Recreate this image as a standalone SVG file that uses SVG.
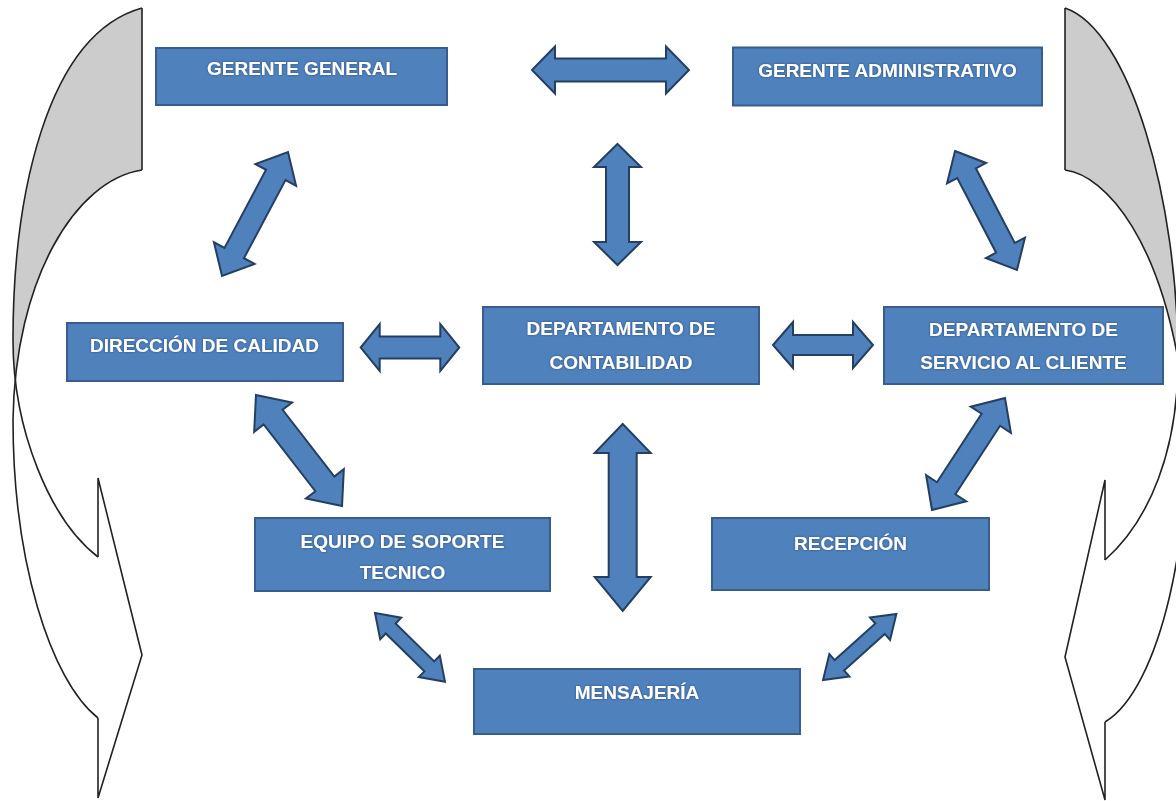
<svg xmlns="http://www.w3.org/2000/svg" width="1176" height="801" viewBox="0 0 1176 801">
<defs>
<style>
.box{fill:#4F81BD;stroke:#385D8A;stroke-width:2}
.arr{fill:#4F81BD;stroke:#243F60;stroke-width:2;stroke-linejoin:miter}
.lbl{font-family:"Liberation Sans",Arial,sans-serif;font-weight:bold;font-size:19px;fill:#FFFFFF;text-anchor:middle;filter:url(#glow)}
.back{fill:#CCCCCC;stroke:none}
.front{fill:#FFFFFF;stroke:none}
.edge{fill:none;stroke:#222222;stroke-width:1.6;stroke-linejoin:miter}
</style>
<filter id="glow" x="-10%" y="-30%" width="120%" height="160%">
<feDropShadow dx="0" dy="0" stdDeviation="0.8" flood-color="#1F3556" flood-opacity="0.7"/>
</filter>
</defs>
<rect width="1176" height="801" fill="#FFFFFF"/>

<g id="curved-arrow-left">
<path class="back" d="M142,8 C45,35 13,200 13,340 L13,420 C15,280 75,180 142,170 Z"/>
<path class="front" d="M13,340 C13,430 50,520 98,557 L98,478 L142,655 L98,798 L98,718 C50,680 13,560 13,420 Z"/>
<path class="edge" d="M142,8 C45,35 13,200 13,340 C13,430 50,520 98,557"/>
<path class="edge" d="M142,170 C75,180 15,280 13,420 C13,560 50,680 98,718"/>
<path class="edge" d="M142,8 L142,170"/>
<path class="edge" d="M98,557 L98,478 L142,655 L98,798 L98,718"/>
</g>

<g id="curved-arrow-right">
<path class="back" d="M1065,8 C1130,30 1178,200 1178,360 L1184,400 C1165,240 1105,175 1065,170 Z"/>
<path class="front" d="M1178,360 C1178,450 1150,520 1105,560 L1105,480 L1065,657 L1105,800 L1105,722 C1160,690 1195,530 1184,400 Z"/>
<path class="edge" d="M1065,8 C1130,30 1178,200 1178,360 C1178,450 1150,520 1105,560"/>
<path class="edge" d="M1065,170 C1105,175 1165,240 1184,400 C1195,530 1160,690 1105,722"/>
<path class="edge" d="M1065,8 L1065,170"/>
<path class="edge" d="M1105,560 L1105,480 L1065,657 L1105,800 L1105,722"/>
</g>

<g id="connectors">
<path class="arr" transform="translate(610.5,70)" d="M-78.5,0 L-55.5,-23.5 L-55.5,-11.5 L55.5,-11.5 L55.5,-23.5 L78.5,0 L55.5,23.5 L55.5,11.5 L-55.5,11.5 L-55.5,23.5 Z"/>
<path class="arr" transform="translate(617.5,204.5) rotate(90)" d="M-60.5,0 L-37.5,-23.5 L-37.5,-11.5 L37.5,-11.5 L37.5,-23.5 L60.5,0 L37.5,23.5 L37.5,11.5 L-37.5,11.5 L-37.5,23.5 Z"/>
<path class="arr" transform="translate(255,214) rotate(118)" d="M-70.25,0 L-44.25,-23 L-44.25,-11 L44.25,-11 L44.25,-23 L70.25,0 L44.25,23 L44.25,11 L-44.25,11 L-44.25,23 Z"/>
<path class="arr" transform="translate(986,210.5) rotate(62.5)" d="M-67.1,0 L-42.1,-22 L-42.1,-10.5 L42.1,-10.5 L42.1,-22 L67.1,0 L42.1,22 L42.1,10.5 L-42.1,10.5 L-42.1,22 Z"/>
<path class="arr" transform="translate(410,347.5)" d="M-49.3,0 L-30.3,-23.5 L-30.3,-11 L30.3,-11 L30.3,-23.5 L49.3,0 L30.3,23.5 L30.3,11 L-30.3,11 L-30.3,23.5 Z"/>
<path class="arr" transform="translate(823,345)" d="M-50,0 L-30,-23 L-30,-10 L30,-10 L30,-23 L50,0 L30,23 L30,10 L-30,10 L-30,23 Z"/>
<path class="arr" transform="translate(299,450.5) rotate(52.2)" d="M-70.2,0 L-42.2,-24 L-42.2,-12 L42.2,-12 L42.2,-24 L70.2,0 L42.2,24 L42.2,12 L-42.2,12 L-42.2,24 Z"/>
<path class="arr" transform="translate(622.7,517.5) rotate(90)" d="M-93.5,0 L-64.5,-28 L-64.5,-14 L59.5,-14 L59.5,-28 L93.5,0 L59.5,28 L59.5,14 L-64.5,14 L-64.5,28 Z"/>
<path class="arr" transform="translate(968.5,454) rotate(123.1)" d="M-66.85,0 L-40.85,-24 L-40.85,-11 L40.85,-11 L40.85,-24 L66.85,0 L40.85,24 L40.85,11 L-40.85,11 L-40.85,24 Z"/>
<path class="arr" transform="translate(410,647.4) rotate(44.5)" d="M-49.05,0 L-27.05,-15 L-27.05,-7 L27.05,-7 L27.05,-15 L49.05,0 L27.05,15 L27.05,7 L-27.05,7 L-27.05,15 Z"/>
<path class="arr" transform="translate(859.7,647) rotate(138)" d="M-49.35,0 L-27.35,-15 L-27.35,-7 L27.35,-7 L27.35,-15 L49.35,0 L27.35,15 L27.35,7 L-27.35,7 L-27.35,15 Z"/>
</g>

<g id="gerente-general">
<rect class="box" x="156" y="48" width="291" height="57"/>
<text class="lbl" x="302" y="75">GERENTE GENERAL</text>
</g>
<g id="gerente-administrativo">
<rect class="box" x="733" y="47.5" width="309" height="58"/>
<text class="lbl" x="887.5" y="77">GERENTE ADMINISTRATIVO</text>
</g>
<g id="direccion-calidad">
<rect class="box" x="67" y="323" width="276" height="58"/>
<text class="lbl" x="204.5" y="352">DIRECCIÓN DE CALIDAD</text>
</g>
<g id="departamento-contabilidad">
<rect class="box" x="483" y="307" width="276" height="77"/>
<text class="lbl" x="621" y="335">DEPARTAMENTO DE</text>
<text class="lbl" x="621" y="369">CONTABILIDAD</text>
</g>
<g id="departamento-servicio-cliente">
<rect class="box" x="884" y="307" width="279" height="77"/>
<text class="lbl" x="1023.5" y="336">DEPARTAMENTO DE</text>
<text class="lbl" x="1023.5" y="368.5">SERVICIO AL CLIENTE</text>
</g>
<g id="equipo-soporte-tecnico">
<rect class="box" x="255" y="518" width="295" height="73"/>
<text class="lbl" x="402.5" y="548">EQUIPO DE SOPORTE</text>
<text class="lbl" x="402.5" y="579">TECNICO</text>
</g>
<g id="recepcion">
<rect class="box" x="712" y="518" width="277" height="72"/>
<text class="lbl" x="850.5" y="550">RECEPCIÓN</text>
</g>
<g id="mensajeria">
<rect class="box" x="474" y="669" width="326" height="65"/>
<text class="lbl" x="637" y="698.5">MENSAJERÍA</text>
</g>
</svg>
